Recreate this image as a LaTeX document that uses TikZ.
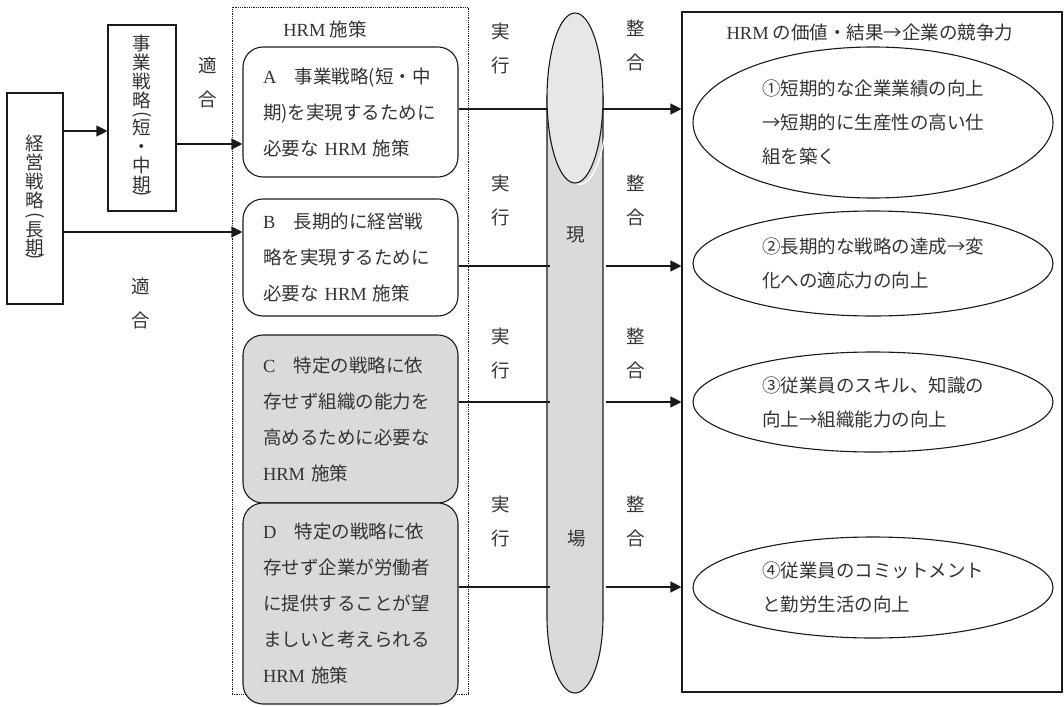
\documentclass[tikz,border=0pt]{standalone}
\usepackage{fontspec}
\setmainfont{Noto Sans CJK JP}
\newfontfamily\lat{Liberation Serif}
\usetikzlibrary{arrows.meta,shapes.geometric}
\definecolor{txt}{HTML}{333333}
\definecolor{ln}{HTML}{1A1A1A}
\definecolor{boxgray}{HTML}{D9DADC}
\definecolor{topgray}{HTML}{E6E7E9}
\newcommand\HRM{{\lat HRM}}
\newcommand\vparL{\raisebox{10.5pt}{\rotatebox{-90}{(}}}
\newcommand\vparR{\raisebox{10.5pt}{\rotatebox{-90}{)}}}
\newcommand\vc[1]{\hbox to 0pt{\hss\smash{#1}\hss}}
\begin{document}
\begin{tikzpicture}[x=1pt,y=-1pt,
  every node/.style={text=txt},
  lw/.style={line width=1.1pt, draw=ln},
  pol/.style={lw, rounded corners=20pt, text width=175pt, inner xsep=20pt, inner ysep=0pt,
    align=left, font=\fontsize{18.5}{36}\selectfont},
  ell/.style={lw, ellipse, inner sep=0pt, align=left, minimum width=360pt,
    font=\fontsize{18.5}{34}\selectfont},
  vtxt/.style={inner sep=0pt, font=\fontsize{18.5}{19}\selectfont},
  lab/.style={align=center, font=\fontsize{18.5}{34}\selectfont},
  conn/.style={lw},
  arr/.style={lw, -{Triangle[length=11pt,width=11pt]}},
]
\useasboundingbox (0,0) rectangle (1064,706);

% left strategy boxes
\node[lw, minimum width=56pt, minimum height=211pt, inner sep=0pt] (keiei) at (35,198.5) {};
\node[vtxt] (keieiT) at (35,207) {\vbox{\offinterlineskip
  \vc{経}\vskip19pt\vc{営}\vskip19pt\vc{戦}\vskip19pt\vc{略}\vskip16pt
  \vc{\vparL}\vskip13pt\vc{長}\vskip18pt\vc{期}\vskip10pt\vc{\vparR}}};
\node[lw, minimum width=68pt, minimum height=186pt, inner sep=0pt] (jigyo) at (142,118) {};
\node[vtxt] (jigyoT) at (142,125.5) {\vbox{\offinterlineskip
  \vc{事}\vskip19pt\vc{業}\vskip19pt\vc{戦}\vskip19pt\vc{略}\vskip15pt
  \vc{\vparL}\vskip12pt\vc{短}\vskip19pt\vc{・}\vskip19pt\vc{中}\vskip19pt\vc{期}\vskip10pt\vc{\vparR}}};

% HRM policy frame
\node[draw=ln, line width=0.8pt, densely dotted, minimum width=236pt, minimum height=687pt, inner sep=0pt] (H) at (350,350.5) {};
\node[lab] (Ht) at (325,29) {\HRM{} 施策};

\node[pol, minimum height=130pt] (A) at (350.5,112)
  {{\lat A}　事業戦略(短・中\\期)を実現するために\\必要な \HRM{} 施策};
\node[pol, minimum height=117pt] (B) at (350.5,257.5)
  {{\lat B}　長期的に経営戦\\略を実現するために\\必要な \HRM{} 施策};
\node[pol, fill=boxgray, minimum height=168pt] (C) at (350.5,419)
  {{\lat C}　特定の戦略に依\\存せず組織の能力を\\高めるために必要な\\\HRM{} 施策};
\node[pol, fill=boxgray, minimum height=201pt] (D) at (350.5,603.5)
  {{\lat D}　特定の戦略に依\\存せず企業が労働者\\に提供することが望\\ましいと考えられる\\\HRM{} 施策};

% genba capsule
\fill[boxgray] (547,96) -- (547,617) arc[start angle=180,end angle=0,x radius=28,y radius=76] -- (603,96) -- cycle;
\draw[lw] (547,96) -- (547,617) arc[start angle=180,end angle=0,x radius=28,y radius=76] -- (603,96);
\draw[white, line width=1.2pt] (577,184) arc[start angle=95,end angle=10,x radius=28,y radius=85];
\draw[lw, fill=topgray] (575,98) ellipse[x radius=28, y radius=85];
\coordinate (gL) at (547,0);
\coordinate (gR) at (603,0);
\node[lab] (gen) at (576,235) {現};
\node[lab] (ba) at (577,539) {場};

% right frame
\node[lw, minimum width=380pt, minimum height=680pt, inner sep=0pt] (R) at (872,352) {};
\node[lab] (Rt) at (870,32) {\HRM{} の価値・結果→企業の競争力};
\node[ell, minimum height=151pt] (E1) at (873,122.5)
  {①短期的な企業業績の向上\\→短期的に生産性の高い仕\\組を築く};
\node[ell, minimum height=105pt] (E2) at (873,263.5)
  {②長期的な戦略の達成→変\\化への適応力の向上};
\node[ell, minimum height=100pt] (E3) at (873,402)
  {③従業員のスキル、知識の\\向上→組織能力の向上};
\node[ell, minimum height=101pt] (E4) at (873,587.5)
  {④従業員のコミットメント\\と勤労生活の向上};

% rows
\coordinate (yA) at (0,109);
\coordinate (yB) at (0,266);
\coordinate (yC) at (0,402);
\coordinate (yD) at (0,587);
\draw[conn] (A.east |- yA) -- (gL |- yA);
\draw[conn] (B.east |- yB) -- ([xshift=3pt]gL |- yB);
\draw[conn] (C.east |- yC) -- ([xshift=3pt]gL |- yC);
\draw[conn] (D.east |- yD) -- ([xshift=3pt]gL |- yD);
\draw[arr] (gR |- yA) -- (R.west |- yA);
\draw[arr] ([xshift=3pt]gR |- yB) -- (R.west |- yB);
\draw[arr] ([xshift=3pt]gR |- yC) -- (R.west |- yC);
\draw[arr] ([xshift=3pt]gR |- yD) -- (R.west |- yD);

% left arrows
\draw[arr] (keiei.east |- 0,131) -- (jigyo.west |- 0,131);
\draw[arr] (jigyo.east |- 0,144) -- (A.west |- 0,144);
\draw[arr] (keiei.east |- 0,232) -- (B.west |- 0,232);

% labels
\node[lab] (t1) at (208,82.5) {適\\合};
\node[lab] (t2) at (141,303.5) {適\\合};
\node[lab] (j1) at (501,48.5) {実\\行};
\node[lab] (j2) at (501,200) {実\\行};
\node[lab] (j3) at (501,353.5) {実\\行};
\node[lab] (j4) at (501,521.5) {実\\行};
\node[lab] (s1) at (636,45) {整\\合};
\node[lab] (s2) at (636,200) {整\\合};
\node[lab] (s3) at (636,353.5) {整\\合};
\node[lab] (s4) at (636,521.5) {整\\合};
\end{tikzpicture}
\end{document}
